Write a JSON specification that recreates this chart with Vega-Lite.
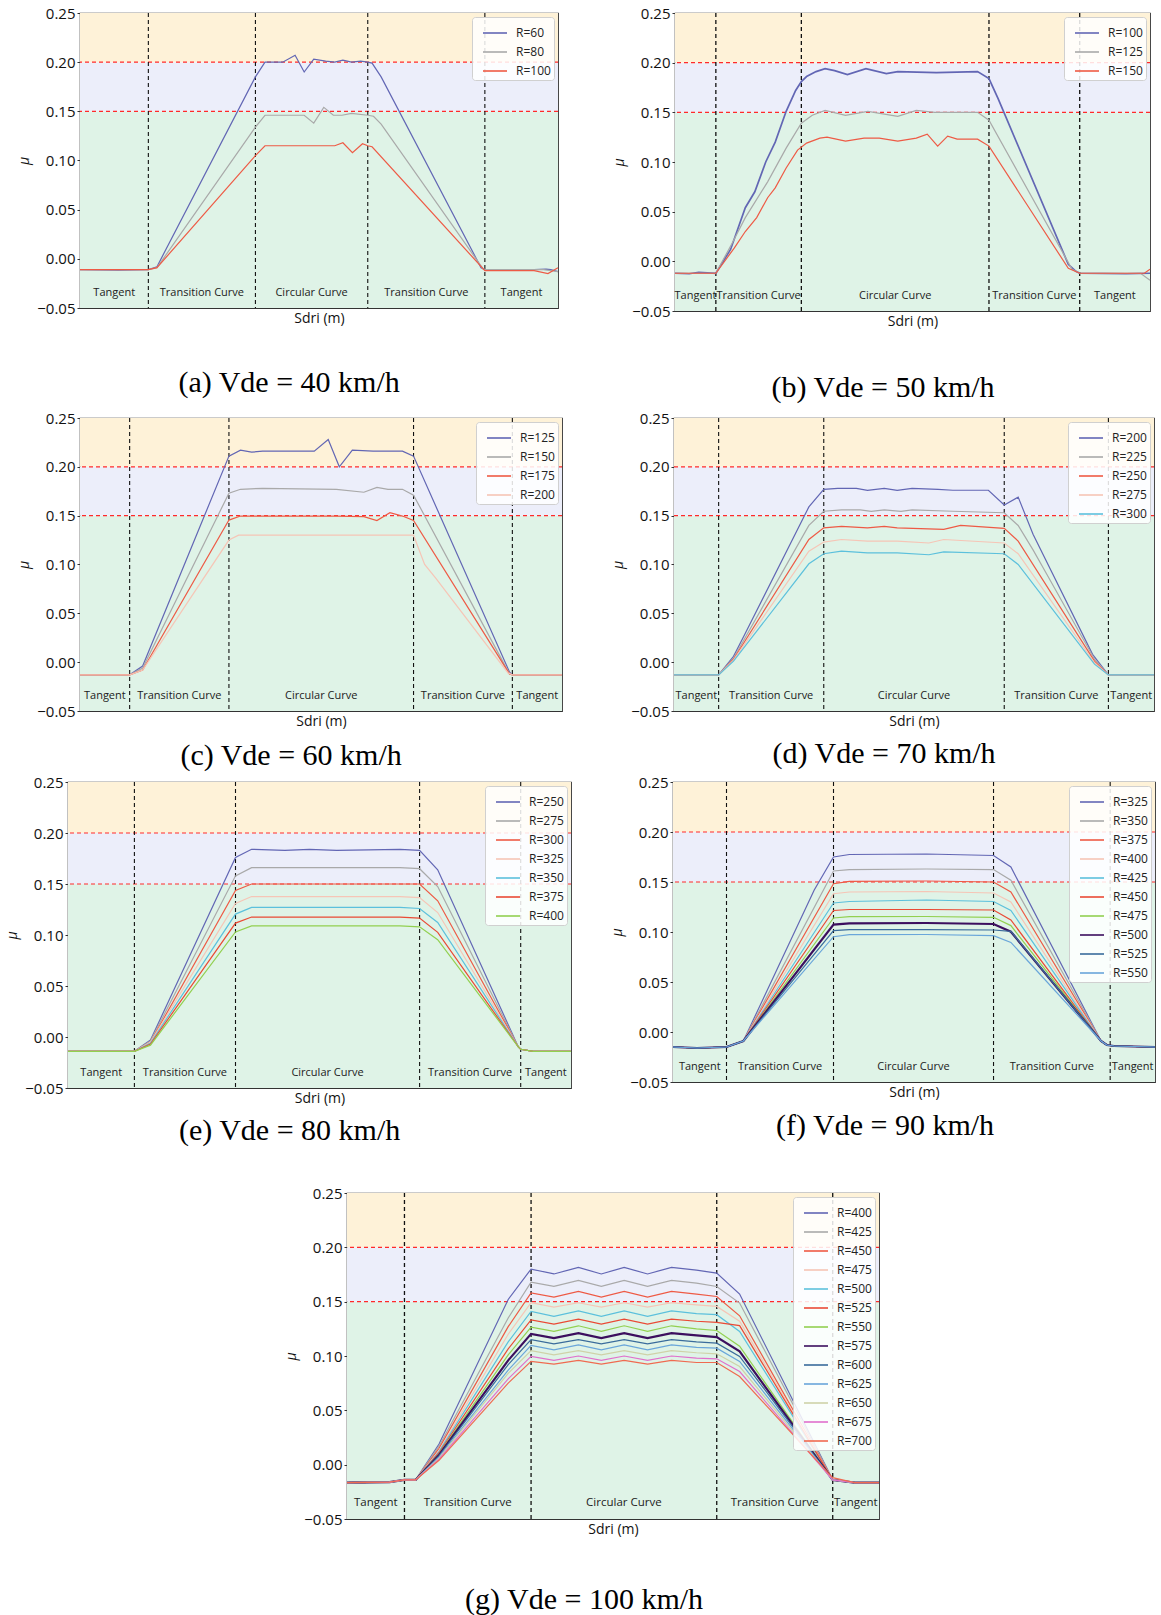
{
"$schema": "https://vega.github.io/schema/vega-lite/v6.json",
"background": "white",
"padding": {"left": 0, "top": 5, "right": 0, "bottom": 0},
"datasets": {
"bands": [{"lo": -0.05, "hi": 0.15, "zone": "g"}, {"lo": 0.15, "hi": 0.2, "zone": "b"}, {"lo": 0.2, "hi": 0.25, "zone": "o"}],
"thr": [{"t": 0.15}, {"t": 0.2}],
"a": [
{"R":"R=60","x":0,"y":-0.011},{"R":"R=60","x":8,"y":-0.0115},{"R":"R=60","x":14.3,"y":-0.011},{"R":"R=60","x":16.1,"y":-0.008},{"R":"R=60","x":36.7,"y":0.185},{"R":"R=60","x":38.7,"y":0.2},{"R":"R=60","x":42.4,"y":0.2},{"R":"R=60","x":45,"y":0.207},{"R":"R=60","x":46.9,"y":0.19},{"R":"R=60","x":48.9,"y":0.203},{"R":"R=60","x":51.4,"y":0.201},{"R":"R=60","x":53.3,"y":0.2},{"R":"R=60","x":55,"y":0.202},{"R":"R=60","x":56.8,"y":0.2},{"R":"R=60","x":58.7,"y":0.201},{"R":"R=60","x":60.2,"y":0.2},{"R":"R=60","x":61.1,"y":0.199},{"R":"R=60","x":63,"y":0.185},{"R":"R=60","x":83.9,"y":-0.009},{"R":"R=60","x":84.7,"y":-0.011},{"R":"R=60","x":95,"y":-0.011},{"R":"R=60","x":97.5,"y":-0.0105},{"R":"R=60","x":98.5,"y":-0.011},{"R":"R=60","x":100,"y":-0.013},
{"R":"R=80","x":0,"y":-0.011},{"R":"R=80","x":14.3,"y":-0.011},{"R":"R=80","x":16.1,"y":-0.009},{"R":"R=80","x":36.7,"y":0.134},{"R":"R=80","x":38.7,"y":0.146},{"R":"R=80","x":46.9,"y":0.146},{"R":"R=80","x":48.9,"y":0.138},{"R":"R=80","x":51,"y":0.154},{"R":"R=80","x":53,"y":0.146},{"R":"R=80","x":54.8,"y":0.146},{"R":"R=80","x":56.8,"y":0.148},{"R":"R=80","x":60.2,"y":0.146},{"R":"R=80","x":61.4,"y":0.145},{"R":"R=80","x":63,"y":0.137},{"R":"R=80","x":84.3,"y":-0.01},{"R":"R=80","x":84.7,"y":-0.011},{"R":"R=80","x":97,"y":-0.011},{"R":"R=80","x":100,"y":-0.013},
{"R":"R=100","x":0,"y":-0.011},{"R":"R=100","x":14.3,"y":-0.011},{"R":"R=100","x":16.1,"y":-0.009},{"R":"R=100","x":36.7,"y":0.105},{"R":"R=100","x":38.7,"y":0.115},{"R":"R=100","x":53.3,"y":0.115},{"R":"R=100","x":55,"y":0.118},{"R":"R=100","x":57,"y":0.108},{"R":"R=100","x":59.1,"y":0.117},{"R":"R=100","x":60.2,"y":0.115},{"R":"R=100","x":61.1,"y":0.114},{"R":"R=100","x":84.7,"y":-0.012},{"R":"R=100","x":95,"y":-0.012},{"R":"R=100","x":97.9,"y":-0.015},{"R":"R=100","x":100,"y":-0.009}
],
"b": [
{"R":"R=100","x":0,"y":-0.012},{"R":"R=100","x":3,"y":-0.0125},{"R":"R=100","x":5,"y":-0.011},{"R":"R=100","x":8.6,"y":-0.012},{"R":"R=100","x":11.7,"y":0.012},{"R":"R=100","x":14.8,"y":0.054},{"R":"R=100","x":16.8,"y":0.07},{"R":"R=100","x":19.1,"y":0.1},{"R":"R=100","x":21.1,"y":0.12},{"R":"R=100","x":23.4,"y":0.151},{"R":"R=100","x":25.4,"y":0.172},{"R":"R=100","x":26.6,"y":0.181},{"R":"R=100","x":27.7,"y":0.186},{"R":"R=100","x":29.7,"y":0.191},{"R":"R=100","x":31.6,"y":0.194},{"R":"R=100","x":33.6,"y":0.192},{"R":"R=100","x":36.3,"y":0.188},{"R":"R=100","x":40.2,"y":0.194},{"R":"R=100","x":44.5,"y":0.189},{"R":"R=100","x":46.9,"y":0.191},{"R":"R=100","x":55,"y":0.19},{"R":"R=100","x":63.7,"y":0.191},{"R":"R=100","x":66.1,"y":0.184},{"R":"R=100","x":68,"y":0.164},{"R":"R=100","x":82.8,"y":-0.003},{"R":"R=100","x":84.4,"y":-0.01},{"R":"R=100","x":85.2,"y":-0.012},{"R":"R=100","x":95,"y":-0.0125},{"R":"R=100","x":100,"y":-0.012},
{"R":"R=125","x":0,"y":-0.012},{"R":"R=125","x":8.6,"y":-0.012},{"R":"R=125","x":12,"y":0.018},{"R":"R=125","x":14.8,"y":0.044},{"R":"R=125","x":19.5,"y":0.08},{"R":"R=125","x":23.4,"y":0.114},{"R":"R=125","x":26.6,"y":0.139},{"R":"R=125","x":28.9,"y":0.147},{"R":"R=125","x":31.6,"y":0.152},{"R":"R=125","x":35.9,"y":0.147},{"R":"R=125","x":40.6,"y":0.151},{"R":"R=125","x":46.9,"y":0.146},{"R":"R=125","x":50.8,"y":0.152},{"R":"R=125","x":54.7,"y":0.15},{"R":"R=125","x":63.7,"y":0.15},{"R":"R=125","x":66.1,"y":0.142},{"R":"R=125","x":83.6,"y":-0.008},{"R":"R=125","x":85.2,"y":-0.012},{"R":"R=125","x":98,"y":-0.012},{"R":"R=125","x":100,"y":-0.019},
{"R":"R=150","x":0,"y":-0.012},{"R":"R=150","x":8.6,"y":-0.012},{"R":"R=150","x":12.5,"y":0.0135},{"R":"R=150","x":14.8,"y":0.03},{"R":"R=150","x":17.2,"y":0.044},{"R":"R=150","x":19.5,"y":0.064},{"R":"R=150","x":21.1,"y":0.074},{"R":"R=150","x":23.4,"y":0.094},{"R":"R=150","x":25.8,"y":0.112},{"R":"R=150","x":27.7,"y":0.119},{"R":"R=150","x":30.5,"y":0.124},{"R":"R=150","x":32,"y":0.125},{"R":"R=150","x":35.9,"y":0.121},{"R":"R=150","x":39.8,"y":0.124},{"R":"R=150","x":43,"y":0.124},{"R":"R=150","x":46.9,"y":0.121},{"R":"R=150","x":50.8,"y":0.124},{"R":"R=150","x":53.1,"y":0.128},{"R":"R=150","x":55.3,"y":0.116},{"R":"R=150","x":57.4,"y":0.126},{"R":"R=150","x":59.4,"y":0.123},{"R":"R=150","x":63.7,"y":0.123},{"R":"R=150","x":66.1,"y":0.116},{"R":"R=150","x":82.8,"y":-0.007},{"R":"R=150","x":85.2,"y":-0.012},{"R":"R=150","x":98.8,"y":-0.012},{"R":"R=150","x":100,"y":-0.008}
],
"c": [
{"R":"R=125","x":0,"y":-0.013},{"R":"R=125","x":10.3,"y":-0.013},{"R":"R=125","x":13,"y":-0.004},{"R":"R=125","x":30.9,"y":0.211},{"R":"R=125","x":33.3,"y":0.217},{"R":"R=125","x":35.6,"y":0.215},{"R":"R=125","x":37.9,"y":0.216},{"R":"R=125","x":43.2,"y":0.216},{"R":"R=125","x":48.6,"y":0.216},{"R":"R=125","x":51.5,"y":0.228},{"R":"R=125","x":53.8,"y":0.2},{"R":"R=125","x":56.5,"y":0.217},{"R":"R=125","x":60.8,"y":0.216},{"R":"R=125","x":66.9,"y":0.216},{"R":"R=125","x":69.2,"y":0.211},{"R":"R=125","x":89.1,"y":-0.01},{"R":"R=125","x":89.7,"y":-0.013},{"R":"R=125","x":100,"y":-0.013},
{"R":"R=150","x":0,"y":-0.013},{"R":"R=150","x":10.3,"y":-0.013},{"R":"R=150","x":13,"y":-0.006},{"R":"R=150","x":30.9,"y":0.173},{"R":"R=150","x":33.3,"y":0.177},{"R":"R=150","x":37.9,"y":0.178},{"R":"R=150","x":53.2,"y":0.177},{"R":"R=150","x":58.9,"y":0.174},{"R":"R=150","x":61.6,"y":0.179},{"R":"R=150","x":63.9,"y":0.177},{"R":"R=150","x":66.9,"y":0.177},{"R":"R=150","x":69.2,"y":0.171},{"R":"R=150","x":89.1,"y":-0.012},{"R":"R=150","x":89.7,"y":-0.013},{"R":"R=150","x":100,"y":-0.013},
{"R":"R=175","x":0,"y":-0.013},{"R":"R=175","x":10.3,"y":-0.013},{"R":"R=175","x":13,"y":-0.008},{"R":"R=175","x":30.9,"y":0.1455},{"R":"R=175","x":33.3,"y":0.1496},{"R":"R=175","x":53.2,"y":0.1496},{"R":"R=175","x":58.9,"y":0.149},{"R":"R=175","x":61.6,"y":0.145},{"R":"R=175","x":64.3,"y":0.153},{"R":"R=175","x":66.9,"y":0.1496},{"R":"R=175","x":69.2,"y":0.145},{"R":"R=175","x":89.1,"y":-0.012},{"R":"R=175","x":89.7,"y":-0.013},{"R":"R=175","x":100,"y":-0.013},
{"R":"R=200","x":0,"y":-0.013},{"R":"R=200","x":10.3,"y":-0.013},{"R":"R=200","x":13,"y":-0.008},{"R":"R=200","x":30.9,"y":0.125},{"R":"R=200","x":32.9,"y":0.13},{"R":"R=200","x":69.2,"y":0.13},{"R":"R=200","x":71.5,"y":0.1},{"R":"R=200","x":73.8,"y":0.086},{"R":"R=200","x":88.8,"y":-0.011},{"R":"R=200","x":89.7,"y":-0.013},{"R":"R=200","x":100,"y":-0.013}
],
"d": [
{"R":"R=200","x":0,"y":-0.013},{"R":"R=200","x":9.3,"y":-0.013},{"R":"R=200","x":12.4,"y":0.006},{"R":"R=200","x":14.7,"y":0.028},{"R":"R=200","x":28.1,"y":0.159},{"R":"R=200","x":31.2,"y":0.177},{"R":"R=200","x":34.1,"y":0.178},{"R":"R=200","x":38,"y":0.178},{"R":"R=200","x":40.3,"y":0.176},{"R":"R=200","x":43.8,"y":0.178},{"R":"R=200","x":46.5,"y":0.176},{"R":"R=200","x":49.6,"y":0.178},{"R":"R=200","x":55,"y":0.177},{"R":"R=200","x":58.1,"y":0.176},{"R":"R=200","x":65.5,"y":0.176},{"R":"R=200","x":68.8,"y":0.161},{"R":"R=200","x":71.7,"y":0.169},{"R":"R=200","x":74.8,"y":0.131},{"R":"R=200","x":87.2,"y":0.008},{"R":"R=200","x":90.5,"y":-0.013},{"R":"R=200","x":100,"y":-0.013},
{"R":"R=225","x":0,"y":-0.013},{"R":"R=225","x":9.3,"y":-0.013},{"R":"R=225","x":12.4,"y":0.004},{"R":"R=225","x":28.1,"y":0.14},{"R":"R=225","x":31.2,"y":0.1545},{"R":"R=225","x":34.9,"y":0.156},{"R":"R=225","x":38.8,"y":0.156},{"R":"R=225","x":41.1,"y":0.1545},{"R":"R=225","x":43.8,"y":0.156},{"R":"R=225","x":47.3,"y":0.1545},{"R":"R=225","x":49.6,"y":0.156},{"R":"R=225","x":58.1,"y":0.1545},{"R":"R=225","x":68.8,"y":0.153},{"R":"R=225","x":71.7,"y":0.14},{"R":"R=225","x":74.8,"y":0.115},{"R":"R=225","x":77.9,"y":0.088},{"R":"R=225","x":87.6,"y":0.003},{"R":"R=225","x":90.5,"y":-0.013},{"R":"R=225","x":100,"y":-0.013},
{"R":"R=250","x":0,"y":-0.013},{"R":"R=250","x":9.3,"y":-0.013},{"R":"R=250","x":12.4,"y":0.003},{"R":"R=250","x":28.1,"y":0.1256},{"R":"R=250","x":31.2,"y":0.1375},{"R":"R=250","x":34.9,"y":0.139},{"R":"R=250","x":40.3,"y":0.1375},{"R":"R=250","x":43.8,"y":0.139},{"R":"R=250","x":46.5,"y":0.1375},{"R":"R=250","x":56.2,"y":0.136},{"R":"R=250","x":59.7,"y":0.14},{"R":"R=250","x":68.8,"y":0.137},{"R":"R=250","x":71.7,"y":0.124},{"R":"R=250","x":87.6,"y":0.001},{"R":"R=250","x":90.5,"y":-0.013},{"R":"R=250","x":100,"y":-0.013},
{"R":"R=275","x":0,"y":-0.013},{"R":"R=275","x":9.3,"y":-0.013},{"R":"R=275","x":12.4,"y":0.002},{"R":"R=275","x":28.1,"y":0.1136},{"R":"R=275","x":31.2,"y":0.123},{"R":"R=275","x":34.9,"y":0.1256},{"R":"R=275","x":40.3,"y":0.124},{"R":"R=275","x":46.5,"y":0.124},{"R":"R=275","x":53.1,"y":0.122},{"R":"R=275","x":56.2,"y":0.1256},{"R":"R=275","x":68.8,"y":0.122},{"R":"R=275","x":71.7,"y":0.111},{"R":"R=275","x":87.6,"y":-0.0006},{"R":"R=275","x":90.5,"y":-0.013},{"R":"R=275","x":100,"y":-0.013},
{"R":"R=300","x":0,"y":-0.013},{"R":"R=300","x":9.3,"y":-0.013},{"R":"R=300","x":12.4,"y":0.001},{"R":"R=300","x":28.1,"y":0.1007},{"R":"R=300","x":31.2,"y":0.111},{"R":"R=300","x":34.9,"y":0.1136},{"R":"R=300","x":40.3,"y":0.112},{"R":"R=300","x":46.5,"y":0.112},{"R":"R=300","x":53.1,"y":0.11},{"R":"R=300","x":56.2,"y":0.113},{"R":"R=300","x":68.8,"y":0.111},{"R":"R=300","x":71.7,"y":0.1},{"R":"R=300","x":87.6,"y":-0.002},{"R":"R=300","x":90.5,"y":-0.013},{"R":"R=300","x":100,"y":-0.013}
],
"e": [
{"R":"R=250","x":0,"y":-0.014},{"R":"R=250","x":13.2,"y":-0.014},{"R":"R=250","x":16.4,"y":-0.003},{"R":"R=250","x":33.3,"y":0.176},{"R":"R=250","x":36.5,"y":0.184},{"R":"R=250","x":43.1,"y":0.183},{"R":"R=250","x":48,"y":0.184},{"R":"R=250","x":53.4,"y":0.183},{"R":"R=250","x":66,"y":0.184},{"R":"R=250","x":69.9,"y":0.183},{"R":"R=250","x":73.5,"y":0.164},{"R":"R=250","x":89.5,"y":-0.0095},{"R":"R=250","x":90,"y":-0.012},{"R":"R=250","x":92.5,"y":-0.014},{"R":"R=250","x":100,"y":-0.014},
{"R":"R=275","x":0,"y":-0.014},{"R":"R=275","x":13.2,"y":-0.014},{"R":"R=275","x":16.4,"y":-0.004},{"R":"R=275","x":33.3,"y":0.158},{"R":"R=275","x":36.5,"y":0.166},{"R":"R=275","x":66,"y":0.166},{"R":"R=275","x":69.9,"y":0.165},{"R":"R=275","x":73.5,"y":0.1475},{"R":"R=275","x":89.5,"y":-0.0095},{"R":"R=275","x":90,"y":-0.012},{"R":"R=275","x":92.5,"y":-0.014},{"R":"R=275","x":100,"y":-0.014},
{"R":"R=300","x":0,"y":-0.014},{"R":"R=300","x":13.2,"y":-0.014},{"R":"R=300","x":16.4,"y":-0.005},{"R":"R=300","x":33.3,"y":0.1436},{"R":"R=300","x":36.5,"y":0.15},{"R":"R=300","x":66,"y":0.15},{"R":"R=300","x":69.9,"y":0.15},{"R":"R=300","x":73.5,"y":0.1335},{"R":"R=300","x":89.5,"y":-0.0095},{"R":"R=300","x":90,"y":-0.012},{"R":"R=300","x":92.5,"y":-0.014},{"R":"R=300","x":100,"y":-0.014},
{"R":"R=325","x":0,"y":-0.014},{"R":"R=325","x":13.2,"y":-0.014},{"R":"R=325","x":16.4,"y":-0.005},{"R":"R=325","x":33.3,"y":0.131},{"R":"R=325","x":36.5,"y":0.1377},{"R":"R=325","x":66,"y":0.1377},{"R":"R=325","x":69.9,"y":0.1367},{"R":"R=325","x":73.5,"y":0.122},{"R":"R=325","x":89.5,"y":-0.0095},{"R":"R=325","x":90,"y":-0.012},{"R":"R=325","x":92.5,"y":-0.014},{"R":"R=325","x":100,"y":-0.014},
{"R":"R=350","x":0,"y":-0.014},{"R":"R=350","x":13.2,"y":-0.014},{"R":"R=350","x":16.4,"y":-0.006},{"R":"R=350","x":33.3,"y":0.1205},{"R":"R=350","x":36.5,"y":0.127},{"R":"R=350","x":66,"y":0.127},{"R":"R=350","x":69.9,"y":0.126},{"R":"R=350","x":73.5,"y":0.1123},{"R":"R=350","x":89.5,"y":-0.0095},{"R":"R=350","x":90,"y":-0.012},{"R":"R=350","x":92.5,"y":-0.014},{"R":"R=350","x":100,"y":-0.014},
{"R":"R=375","x":0,"y":-0.014},{"R":"R=375","x":13.2,"y":-0.014},{"R":"R=375","x":16.4,"y":-0.007},{"R":"R=375","x":33.3,"y":0.1117},{"R":"R=375","x":36.5,"y":0.1176},{"R":"R=375","x":66,"y":0.1176},{"R":"R=375","x":69.9,"y":0.1166},{"R":"R=375","x":73.5,"y":0.1026},{"R":"R=375","x":89.5,"y":-0.0095},{"R":"R=375","x":90,"y":-0.012},{"R":"R=375","x":92.5,"y":-0.014},{"R":"R=375","x":100,"y":-0.014},
{"R":"R=400","x":0,"y":-0.014},{"R":"R=400","x":13.2,"y":-0.014},{"R":"R=400","x":16.4,"y":-0.008},{"R":"R=400","x":33.3,"y":0.103},{"R":"R=400","x":36.5,"y":0.109},{"R":"R=400","x":66,"y":0.109},{"R":"R=400","x":69.9,"y":0.108},{"R":"R=400","x":73.5,"y":0.0954},{"R":"R=400","x":89.5,"y":-0.0095},{"R":"R=400","x":90,"y":-0.012},{"R":"R=400","x":92.5,"y":-0.014},{"R":"R=400","x":100,"y":-0.014}
],
"f": [
{"R":"R=325","x":0,"y":-0.015},{"R":"R=325","x":5,"y":-0.016},{"R":"R=325","x":11.1,"y":-0.015},{"R":"R=325","x":14.6,"y":-0.009},{"R":"R=325","x":29.3,"y":0.142},{"R":"R=325","x":33.3,"y":0.175},{"R":"R=325","x":36.6,"y":0.1775},{"R":"R=325","x":52.6,"y":0.178},{"R":"R=325","x":66.5,"y":0.1765},{"R":"R=325","x":70.1,"y":0.165},{"R":"R=325","x":88.8,"y":-0.009},{"R":"R=325","x":90,"y":-0.013},{"R":"R=325","x":91.5,"y":-0.014},{"R":"R=325","x":100,"y":-0.015},
{"R":"R=350","x":0,"y":-0.015},{"R":"R=350","x":5,"y":-0.016},{"R":"R=350","x":11.1,"y":-0.015},{"R":"R=350","x":14.6,"y":-0.009},{"R":"R=350","x":33.3,"y":0.161},{"R":"R=350","x":36.6,"y":0.1624},{"R":"R=350","x":52.6,"y":0.163},{"R":"R=350","x":66.5,"y":0.1624},{"R":"R=350","x":70.1,"y":0.1517},{"R":"R=350","x":88.8,"y":-0.009},{"R":"R=350","x":90,"y":-0.013},{"R":"R=350","x":91.5,"y":-0.014},{"R":"R=350","x":100,"y":-0.015},
{"R":"R=375","x":0,"y":-0.015},{"R":"R=375","x":5,"y":-0.016},{"R":"R=375","x":11.1,"y":-0.015},{"R":"R=375","x":14.6,"y":-0.009},{"R":"R=375","x":33.3,"y":0.1483},{"R":"R=375","x":36.6,"y":0.1507},{"R":"R=375","x":52.6,"y":0.151},{"R":"R=375","x":66.5,"y":0.15},{"R":"R=375","x":70.1,"y":0.14},{"R":"R=375","x":88.8,"y":-0.009},{"R":"R=375","x":90,"y":-0.013},{"R":"R=375","x":91.5,"y":-0.014},{"R":"R=375","x":100,"y":-0.015},
{"R":"R=400","x":0,"y":-0.015},{"R":"R=400","x":5,"y":-0.016},{"R":"R=400","x":11.1,"y":-0.015},{"R":"R=400","x":14.6,"y":-0.009},{"R":"R=400","x":33.3,"y":0.1383},{"R":"R=400","x":36.6,"y":0.14},{"R":"R=400","x":52.6,"y":0.1405},{"R":"R=400","x":66.5,"y":0.139},{"R":"R=400","x":70.1,"y":0.13},{"R":"R=400","x":88.8,"y":-0.009},{"R":"R=400","x":90,"y":-0.013},{"R":"R=400","x":91.5,"y":-0.014},{"R":"R=400","x":100,"y":-0.015},
{"R":"R=425","x":0,"y":-0.015},{"R":"R=425","x":5,"y":-0.016},{"R":"R=425","x":11.1,"y":-0.015},{"R":"R=425","x":14.6,"y":-0.009},{"R":"R=425","x":33.3,"y":0.129},{"R":"R=425","x":36.6,"y":0.1305},{"R":"R=425","x":52.6,"y":0.132},{"R":"R=425","x":66.5,"y":0.1305},{"R":"R=425","x":70.1,"y":0.1215},{"R":"R=425","x":88.8,"y":-0.009},{"R":"R=425","x":90,"y":-0.013},{"R":"R=425","x":91.5,"y":-0.014},{"R":"R=425","x":100,"y":-0.015},
{"R":"R=450","x":0,"y":-0.015},{"R":"R=450","x":5,"y":-0.016},{"R":"R=450","x":11.1,"y":-0.015},{"R":"R=450","x":14.6,"y":-0.009},{"R":"R=450","x":33.3,"y":0.1215},{"R":"R=450","x":36.6,"y":0.1225},{"R":"R=450","x":52.6,"y":0.1225},{"R":"R=450","x":66.5,"y":0.122},{"R":"R=450","x":70.1,"y":0.112},{"R":"R=450","x":88.8,"y":-0.009},{"R":"R=450","x":90,"y":-0.013},{"R":"R=450","x":91.5,"y":-0.014},{"R":"R=450","x":100,"y":-0.015},
{"R":"R=475","x":0,"y":-0.015},{"R":"R=475","x":5,"y":-0.016},{"R":"R=475","x":11.1,"y":-0.015},{"R":"R=475","x":14.6,"y":-0.009},{"R":"R=475","x":33.3,"y":0.114},{"R":"R=475","x":36.6,"y":0.1154},{"R":"R=475","x":52.6,"y":0.1155},{"R":"R=475","x":66.5,"y":0.1147},{"R":"R=475","x":70.1,"y":0.1064},{"R":"R=475","x":88.8,"y":-0.009},{"R":"R=475","x":90,"y":-0.013},{"R":"R=475","x":91.5,"y":-0.014},{"R":"R=475","x":100,"y":-0.015},
{"R":"R=500","x":0,"y":-0.015},{"R":"R=500","x":5,"y":-0.016},{"R":"R=500","x":11.1,"y":-0.015},{"R":"R=500","x":14.6,"y":-0.009},{"R":"R=500","x":33.3,"y":0.1074},{"R":"R=500","x":36.6,"y":0.1087},{"R":"R=500","x":52.6,"y":0.109},{"R":"R=500","x":66.5,"y":0.108},{"R":"R=500","x":70.1,"y":0.1003},{"R":"R=500","x":88.8,"y":-0.009},{"R":"R=500","x":90,"y":-0.013},{"R":"R=500","x":91.5,"y":-0.014},{"R":"R=500","x":100,"y":-0.015},
{"R":"R=525","x":0,"y":-0.015},{"R":"R=525","x":5,"y":-0.016},{"R":"R=525","x":11.1,"y":-0.015},{"R":"R=525","x":14.6,"y":-0.009},{"R":"R=525","x":33.3,"y":0.1013},{"R":"R=525","x":36.6,"y":0.1023},{"R":"R=525","x":52.6,"y":0.1023},{"R":"R=525","x":66.5,"y":0.102},{"R":"R=525","x":70.1,"y":0.1007},{"R":"R=525","x":88.8,"y":-0.009},{"R":"R=525","x":90,"y":-0.013},{"R":"R=525","x":91.5,"y":-0.014},{"R":"R=525","x":100,"y":-0.015},
{"R":"R=550","x":0,"y":-0.015},{"R":"R=550","x":5,"y":-0.016},{"R":"R=550","x":11.1,"y":-0.015},{"R":"R=550","x":14.6,"y":-0.009},{"R":"R=550","x":33.3,"y":0.0953},{"R":"R=550","x":36.6,"y":0.0973},{"R":"R=550","x":52.6,"y":0.0975},{"R":"R=550","x":66.5,"y":0.0963},{"R":"R=550","x":70.1,"y":0.0896},{"R":"R=550","x":88.8,"y":-0.009},{"R":"R=550","x":90,"y":-0.013},{"R":"R=550","x":91.5,"y":-0.014},{"R":"R=550","x":100,"y":-0.015}
],
"g": [
{"R":"R=400","x":0,"y":-0.0165},{"R":"R=400","x":8,"y":-0.016},{"R":"R=400","x":10.8,"y":-0.014},{"R":"R=400","x":12.9,"y":-0.014},{"R":"R=400","x":17.3,"y":0.019},{"R":"R=400","x":30.3,"y":0.152},{"R":"R=400","x":34.6,"y":0.18},{"R":"R=400","x":38.9,"y":0.1755},{"R":"R=400","x":43.5,"y":0.1815},{"R":"R=400","x":47.8,"y":0.1755},{"R":"R=400","x":52.1,"y":0.1815},{"R":"R=400","x":56.5,"y":0.1755},{"R":"R=400","x":61,"y":0.1815},{"R":"R=400","x":65.7,"y":0.179},{"R":"R=400","x":69.5,"y":0.1763},{"R":"R=400","x":73.8,"y":0.157},{"R":"R=400","x":91.3,"y":-0.014},{"R":"R=400","x":95.4,"y":-0.0165},{"R":"R=400","x":100,"y":-0.0165},
{"R":"R=425","x":0,"y":-0.0165},{"R":"R=425","x":8,"y":-0.016},{"R":"R=425","x":10.8,"y":-0.014},{"R":"R=425","x":12.9,"y":-0.014},{"R":"R=425","x":17.3,"y":0.017},{"R":"R=425","x":30.3,"y":0.135},{"R":"R=425","x":34.6,"y":0.168},{"R":"R=425","x":38.9,"y":0.164},{"R":"R=425","x":43.5,"y":0.1696},{"R":"R=425","x":47.8,"y":0.164},{"R":"R=425","x":52.1,"y":0.1696},{"R":"R=425","x":56.5,"y":0.164},{"R":"R=425","x":61,"y":0.1696},{"R":"R=425","x":65.7,"y":0.167},{"R":"R=425","x":69.5,"y":0.164},{"R":"R=425","x":73.8,"y":0.1487},{"R":"R=425","x":91.3,"y":-0.014},{"R":"R=425","x":95.4,"y":-0.0165},{"R":"R=425","x":100,"y":-0.0165},
{"R":"R=450","x":0,"y":-0.0165},{"R":"R=450","x":8,"y":-0.016},{"R":"R=450","x":10.8,"y":-0.014},{"R":"R=450","x":12.9,"y":-0.014},{"R":"R=450","x":17.3,"y":0.015},{"R":"R=450","x":30.3,"y":0.127},{"R":"R=450","x":34.6,"y":0.158},{"R":"R=450","x":38.9,"y":0.1542},{"R":"R=450","x":43.5,"y":0.1594},{"R":"R=450","x":47.8,"y":0.1542},{"R":"R=450","x":52.1,"y":0.1594},{"R":"R=450","x":56.5,"y":0.1542},{"R":"R=450","x":61,"y":0.1594},{"R":"R=450","x":65.7,"y":0.157},{"R":"R=450","x":69.5,"y":0.1548},{"R":"R=450","x":73.8,"y":0.137},{"R":"R=450","x":91.3,"y":-0.014},{"R":"R=450","x":95.4,"y":-0.0165},{"R":"R=450","x":100,"y":-0.0165},
{"R":"R=475","x":0,"y":-0.0165},{"R":"R=475","x":8,"y":-0.016},{"R":"R=475","x":10.8,"y":-0.014},{"R":"R=475","x":12.9,"y":-0.014},{"R":"R=475","x":17.3,"y":0.013},{"R":"R=475","x":30.3,"y":0.12},{"R":"R=475","x":34.6,"y":0.149},{"R":"R=475","x":38.9,"y":0.145},{"R":"R=475","x":43.5,"y":0.149},{"R":"R=475","x":47.8,"y":0.145},{"R":"R=475","x":52.1,"y":0.149},{"R":"R=475","x":56.5,"y":0.145},{"R":"R=475","x":61,"y":0.149},{"R":"R=475","x":65.7,"y":0.147},{"R":"R=475","x":69.5,"y":0.1456},{"R":"R=475","x":73.8,"y":0.132},{"R":"R=475","x":91.3,"y":-0.014},{"R":"R=475","x":95.4,"y":-0.0165},{"R":"R=475","x":100,"y":-0.0165},
{"R":"R=500","x":0,"y":-0.0165},{"R":"R=500","x":8,"y":-0.016},{"R":"R=500","x":10.8,"y":-0.014},{"R":"R=500","x":12.9,"y":-0.014},{"R":"R=500","x":17.3,"y":0.012},{"R":"R=500","x":30.3,"y":0.113},{"R":"R=500","x":34.6,"y":0.141},{"R":"R=500","x":38.9,"y":0.1364},{"R":"R=500","x":43.5,"y":0.1416},{"R":"R=500","x":47.8,"y":0.1364},{"R":"R=500","x":52.1,"y":0.1416},{"R":"R=500","x":56.5,"y":0.1364},{"R":"R=500","x":61,"y":0.1416},{"R":"R=500","x":65.7,"y":0.139},{"R":"R=500","x":69.5,"y":0.138},{"R":"R=500","x":73.8,"y":0.1226},{"R":"R=500","x":91.3,"y":-0.014},{"R":"R=500","x":95.4,"y":-0.0165},{"R":"R=500","x":100,"y":-0.0165},
{"R":"R=525","x":0,"y":-0.0165},{"R":"R=525","x":8,"y":-0.016},{"R":"R=525","x":10.8,"y":-0.014},{"R":"R=525","x":12.9,"y":-0.014},{"R":"R=525","x":17.3,"y":0.011},{"R":"R=525","x":30.3,"y":0.1065},{"R":"R=525","x":34.6,"y":0.1333},{"R":"R=525","x":38.9,"y":0.1293},{"R":"R=525","x":43.5,"y":0.134},{"R":"R=525","x":47.8,"y":0.1293},{"R":"R=525","x":52.1,"y":0.134},{"R":"R=525","x":56.5,"y":0.1293},{"R":"R=525","x":61,"y":0.134},{"R":"R=525","x":65.7,"y":0.132},{"R":"R=525","x":69.5,"y":0.131},{"R":"R=525","x":73.8,"y":0.128},{"R":"R=525","x":91.3,"y":-0.014},{"R":"R=525","x":95.4,"y":-0.0165},{"R":"R=525","x":100,"y":-0.0165},
{"R":"R=550","x":0,"y":-0.0165},{"R":"R=550","x":8,"y":-0.016},{"R":"R=550","x":10.8,"y":-0.014},{"R":"R=550","x":12.9,"y":-0.014},{"R":"R=550","x":17.3,"y":0.01},{"R":"R=550","x":30.3,"y":0.101},{"R":"R=550","x":34.6,"y":0.1266},{"R":"R=550","x":38.9,"y":0.1226},{"R":"R=550","x":43.5,"y":0.1278},{"R":"R=550","x":47.8,"y":0.1226},{"R":"R=550","x":52.1,"y":0.1278},{"R":"R=550","x":56.5,"y":0.1226},{"R":"R=550","x":61,"y":0.1278},{"R":"R=550","x":65.7,"y":0.125},{"R":"R=550","x":69.5,"y":0.1235},{"R":"R=550","x":73.8,"y":0.109},{"R":"R=550","x":91.3,"y":-0.014},{"R":"R=550","x":95.4,"y":-0.0165},{"R":"R=550","x":100,"y":-0.0165},
{"R":"R=575","x":0,"y":-0.0165},{"R":"R=575","x":8,"y":-0.016},{"R":"R=575","x":10.8,"y":-0.014},{"R":"R=575","x":12.9,"y":-0.014},{"R":"R=575","x":17.3,"y":0.009},{"R":"R=575","x":30.3,"y":0.096},{"R":"R=575","x":34.6,"y":0.1204},{"R":"R=575","x":38.9,"y":0.1164},{"R":"R=575","x":43.5,"y":0.121},{"R":"R=575","x":47.8,"y":0.1164},{"R":"R=575","x":52.1,"y":0.121},{"R":"R=575","x":56.5,"y":0.1164},{"R":"R=575","x":61,"y":0.121},{"R":"R=575","x":65.7,"y":0.119},{"R":"R=575","x":69.5,"y":0.1174},{"R":"R=575","x":73.8,"y":0.1042},{"R":"R=575","x":91.3,"y":-0.014},{"R":"R=575","x":95.4,"y":-0.0165},{"R":"R=575","x":100,"y":-0.0165},
{"R":"R=600","x":0,"y":-0.0165},{"R":"R=600","x":8,"y":-0.016},{"R":"R=600","x":10.8,"y":-0.014},{"R":"R=600","x":12.9,"y":-0.014},{"R":"R=600","x":17.3,"y":0.008},{"R":"R=600","x":30.3,"y":0.092},{"R":"R=600","x":34.6,"y":0.115},{"R":"R=600","x":38.9,"y":0.1112},{"R":"R=600","x":43.5,"y":0.115},{"R":"R=600","x":47.8,"y":0.1112},{"R":"R=600","x":52.1,"y":0.115},{"R":"R=600","x":56.5,"y":0.1112},{"R":"R=600","x":61,"y":0.115},{"R":"R=600","x":65.7,"y":0.113},{"R":"R=600","x":69.5,"y":0.1118},{"R":"R=600","x":73.8,"y":0.0996},{"R":"R=600","x":91.3,"y":-0.014},{"R":"R=600","x":95.4,"y":-0.0165},{"R":"R=600","x":100,"y":-0.0165},
{"R":"R=625","x":0,"y":-0.0165},{"R":"R=625","x":8,"y":-0.016},{"R":"R=625","x":10.8,"y":-0.014},{"R":"R=625","x":12.9,"y":-0.014},{"R":"R=625","x":17.3,"y":0.007},{"R":"R=625","x":30.3,"y":0.087},{"R":"R=625","x":34.6,"y":0.1097},{"R":"R=625","x":38.9,"y":0.1057},{"R":"R=625","x":43.5,"y":0.1103},{"R":"R=625","x":47.8,"y":0.1057},{"R":"R=625","x":52.1,"y":0.1103},{"R":"R=625","x":56.5,"y":0.1057},{"R":"R=625","x":61,"y":0.1103},{"R":"R=625","x":65.7,"y":0.108},{"R":"R=625","x":69.5,"y":0.1072},{"R":"R=625","x":73.8,"y":0.095},{"R":"R=625","x":91.3,"y":-0.014},{"R":"R=625","x":95.4,"y":-0.0165},{"R":"R=625","x":100,"y":-0.0165},
{"R":"R=650","x":0,"y":-0.0165},{"R":"R=650","x":8,"y":-0.016},{"R":"R=650","x":10.8,"y":-0.014},{"R":"R=650","x":12.9,"y":-0.014},{"R":"R=650","x":17.3,"y":0.006},{"R":"R=650","x":30.3,"y":0.084},{"R":"R=650","x":34.6,"y":0.105},{"R":"R=650","x":38.9,"y":0.1011},{"R":"R=650","x":43.5,"y":0.105},{"R":"R=650","x":47.8,"y":0.1011},{"R":"R=650","x":52.1,"y":0.105},{"R":"R=650","x":56.5,"y":0.1011},{"R":"R=650","x":61,"y":0.105},{"R":"R=650","x":65.7,"y":0.103},{"R":"R=650","x":69.5,"y":0.102},{"R":"R=650","x":73.8,"y":0.0903},{"R":"R=650","x":91.3,"y":-0.014},{"R":"R=650","x":95.4,"y":-0.0165},{"R":"R=650","x":100,"y":-0.0165},
{"R":"R=675","x":0,"y":-0.0165},{"R":"R=675","x":8,"y":-0.016},{"R":"R=675","x":10.8,"y":-0.014},{"R":"R=675","x":12.9,"y":-0.014},{"R":"R=675","x":17.3,"y":0.005},{"R":"R=675","x":30.3,"y":0.079},{"R":"R=675","x":34.6,"y":0.0996},{"R":"R=675","x":38.9,"y":0.0959},{"R":"R=675","x":43.5,"y":0.1},{"R":"R=675","x":47.8,"y":0.0959},{"R":"R=675","x":52.1,"y":0.1},{"R":"R=675","x":56.5,"y":0.0959},{"R":"R=675","x":61,"y":0.1},{"R":"R=675","x":65.7,"y":0.098},{"R":"R=675","x":69.5,"y":0.0974},{"R":"R=675","x":73.8,"y":0.0857},{"R":"R=675","x":91.3,"y":-0.014},{"R":"R=675","x":95.4,"y":-0.0165},{"R":"R=675","x":100,"y":-0.0165},
{"R":"R=700","x":0,"y":-0.0165},{"R":"R=700","x":8,"y":-0.016},{"R":"R=700","x":10.8,"y":-0.014},{"R":"R=700","x":12.9,"y":-0.014},{"R":"R=700","x":17.3,"y":0.004},{"R":"R=700","x":30.3,"y":0.075},{"R":"R=700","x":34.6,"y":0.095},{"R":"R=700","x":38.9,"y":0.0925},{"R":"R=700","x":43.5,"y":0.0959},{"R":"R=700","x":47.8,"y":0.0925},{"R":"R=700","x":52.1,"y":0.0959},{"R":"R=700","x":56.5,"y":0.0925},{"R":"R=700","x":61,"y":0.0959},{"R":"R=700","x":65.7,"y":0.094},{"R":"R=700","x":69.5,"y":0.094},{"R":"R=700","x":73.8,"y":0.0811},{"R":"R=700","x":90.5,"y":-0.008},{"R":"R=700","x":91.3,"y":-0.012},{"R":"R=700","x":95.4,"y":-0.0165},{"R":"R=700","x":100,"y":-0.0165}
]
},
"spacing": -3,
"resolve": {"scale": {"color": "independent", "fill": "independent"}, "legend": {"color": "independent"}},
"vconcat": [
{"spacing": 0, "resolve": {"scale": {"color": "independent", "fill": "independent"}, "legend": {"color": "independent"}},
 "hconcat": [
  {"width": 17, "height": 1, "view": {"stroke": null}, "data": {"values": [{}]}, "mark": {"type": "text", "fontSize": 0}, "encoding": {"text": {"value": ""}}},
  {"spacing": 51, "resolve": {"scale": {"color": "independent", "fill": "independent"}, "legend": {"color": "independent"}},
   "hconcat": [
   {"width": 478, "height": 295, "title": {"text": "(a) Vde = 40 km/h", "offset": 43},
    "layer": [
     {"data": {"name": "bands"}, "mark": {"type": "rect"}, "encoding": {"x": {"datum": 0, "type": "quantitative", "title": "Sdri (m)"}, "x2": {"datum": 100}, "y": {"field": "lo", "type": "quantitative", "title": "μ"}, "y2": {"field": "hi"}, "fill": {"field": "zone", "type": "nominal", "scale": {"domain": ["g", "b", "o"], "range": ["#dff3e7", "#eceefa", "#fef2d8"]}, "legend": null}}},
     {"data": {"name": "thr"}, "mark": {"type": "rule", "color": "#ff2a2a", "strokeDash": [4, 3], "strokeWidth": 1.2}, "encoding": {"y": {"field": "t", "type": "quantitative", "title": "μ"}}},
     {"data": {"values": [{"s": 14.3}, {"s": 36.7}, {"s": 60.2}, {"s": 84.7}]}, "mark": {"type": "rule", "color": "#111", "strokeDash": [4, 3], "strokeWidth": 1.1}, "encoding": {"x": {"field": "s", "type": "quantitative", "title": "Sdri (m)"}}},
     {"data": {"values": [{"x": 7.15, "label": "Tangent"}, {"x": 25.5, "label": "Transition Curve"}, {"x": 48.45, "label": "Circular Curve"}, {"x": 72.45, "label": "Transition Curve"}, {"x": 92.35, "label": "Tangent"}]}, "mark": {"type": "text", "font": "Open Sans", "fontSize": 11, "color": "#222"}, "encoding": {"x": {"field": "x", "type": "quantitative", "title": "Sdri (m)"}, "y": {"datum": -0.035, "type": "quantitative", "title": "μ"}, "text": {"field": "label"}}},
     {"data": {"name": "a"}, "mark": {"type": "line", "strokeWidth": 1.2}, "encoding": {
       "x": {"field": "x", "type": "quantitative", "title": "Sdri (m)", "scale": {"domain": [0, 100], "nice": false, "zero": false}},
       "y": {"field": "y", "type": "quantitative", "title": "μ", "scale": {"domain": [-0.05, 0.25], "nice": false, "zero": false}, "axis": {"values": [-0.05, 0, 0.05, 0.1, 0.15, 0.2, 0.25], "format": ".2f"}},
       "color": {"field": "R", "type": "nominal", "scale": {"domain": ["R=60", "R=80", "R=100"], "range": ["#6266b4", "#a9a9a9", "#ee5a45"]}, "legend": {"title": null}}}}
    ]},
   {"width": 475, "height": 298, "title": {"text": "(b) Vde = 50 km/h", "offset": 45},
    "layer": [
     {"data": {"name": "bands"}, "mark": {"type": "rect"}, "encoding": {"x": {"datum": 0, "type": "quantitative", "title": "Sdri (m)"}, "x2": {"datum": 100}, "y": {"field": "lo", "type": "quantitative", "title": "μ"}, "y2": {"field": "hi"}, "fill": {"field": "zone", "type": "nominal", "scale": {"domain": ["g", "b", "o"], "range": ["#dff3e7", "#eceefa", "#fef2d8"]}, "legend": null}}},
     {"data": {"name": "thr"}, "mark": {"type": "rule", "color": "#ff2a2a", "strokeDash": [4, 3], "strokeWidth": 1.2}, "encoding": {"y": {"field": "t", "type": "quantitative", "title": "μ"}}},
     {"data": {"values": [{"s": 8.6}, {"s": 26.6}, {"s": 66.1}, {"s": 85.2}]}, "mark": {"type": "rule", "color": "#111", "strokeDash": [4, 3], "strokeWidth": 1.3}, "encoding": {"x": {"field": "s", "type": "quantitative", "title": "Sdri (m)"}}},
     {"data": {"values": [{"x": 4.3, "label": "Tangent"}, {"x": 17.6, "label": "Transition Curve"}, {"x": 46.35, "label": "Circular Curve"}, {"x": 75.65, "label": "Transition Curve"}, {"x": 92.6, "label": "Tangent"}]}, "mark": {"type": "text", "font": "Open Sans", "fontSize": 11, "color": "#222"}, "encoding": {"x": {"field": "x", "type": "quantitative", "title": "Sdri (m)"}, "y": {"datum": -0.035, "type": "quantitative", "title": "μ"}, "text": {"field": "label"}}},
     {"data": {"name": "b"}, "mark": {"type": "line"}, "encoding": {
       "x": {"field": "x", "type": "quantitative", "title": "Sdri (m)", "scale": {"domain": [0, 100], "nice": false, "zero": false}},
       "y": {"field": "y", "type": "quantitative", "title": "μ", "scale": {"domain": [-0.05, 0.25], "nice": false, "zero": false}, "axis": {"values": [-0.05, 0, 0.05, 0.1, 0.15, 0.2, 0.25], "format": ".2f"}},
       "strokeWidth": {"condition": {"test": "datum.R === 'R=100'", "value": 1.7}, "value": 1.2},
       "color": {"field": "R", "type": "nominal", "scale": {"domain": ["R=100", "R=125", "R=150"], "range": ["#6266b4", "#a9a9a9", "#ee5a45"]}, "legend": {"title": null}}}}
    ]}
   ]}
 ]},
{"width": 1, "height": 9, "view": {"stroke": null}, "data": {"values": [{}]}, "mark": {"type": "text", "fontSize": 0}, "encoding": {"text": {"value": ""}}},
{"spacing": 0, "resolve": {"scale": {"color": "independent", "fill": "independent"}, "legend": {"color": "independent"}},
  "hconcat": [
  {"width": 17, "height": 1, "view": {"stroke": null}, "data": {"values": [{}]}, "mark": {"type": "text", "fontSize": 0}, "encoding": {"text": {"value": ""}}},
  {"spacing": 46, "resolve": {"scale": {"color": "independent", "fill": "independent"}, "legend": {"color": "independent"}},
   "hconcat": [
   {"width": 482, "height": 293, "title": {"text": "(c) Vde = 60 km/h", "offset": 13},
    "layer": [
     {"data": {"name": "bands"}, "mark": {"type": "rect"}, "encoding": {"x": {"datum": 0, "type": "quantitative", "title": "Sdri (m)"}, "x2": {"datum": 100}, "y": {"field": "lo", "type": "quantitative", "title": "μ"}, "y2": {"field": "hi"}, "fill": {"field": "zone", "type": "nominal", "scale": {"domain": ["g", "b", "o"], "range": ["#dff3e7", "#eceefa", "#fef2d8"]}, "legend": null}}},
     {"data": {"name": "thr"}, "mark": {"type": "rule", "color": "#ff2a2a", "strokeDash": [4, 3], "strokeWidth": 1.2}, "encoding": {"y": {"field": "t", "type": "quantitative", "title": "μ"}}},
     {"data": {"values": [{"s": 10.3}, {"s": 30.9}, {"s": 69.2}, {"s": 89.7}]}, "mark": {"type": "rule", "color": "#111", "strokeDash": [4, 3], "strokeWidth": 1.1}, "encoding": {"x": {"field": "s", "type": "quantitative", "title": "Sdri (m)"}}},
     {"data": {"values": [{"x": 5.15, "label": "Tangent"}, {"x": 20.6, "label": "Transition Curve"}, {"x": 50.05, "label": "Circular Curve"}, {"x": 79.45, "label": "Transition Curve"}, {"x": 94.85, "label": "Tangent"}]}, "mark": {"type": "text", "font": "Open Sans", "fontSize": 11, "color": "#222"}, "encoding": {"x": {"field": "x", "type": "quantitative", "title": "Sdri (m)"}, "y": {"datum": -0.035, "type": "quantitative", "title": "μ"}, "text": {"field": "label"}}},
     {"data": {"name": "c"}, "mark": {"type": "line", "strokeWidth": 1.2}, "encoding": {
       "x": {"field": "x", "type": "quantitative", "title": "Sdri (m)", "scale": {"domain": [0, 100], "nice": false, "zero": false}},
       "y": {"field": "y", "type": "quantitative", "title": "μ", "scale": {"domain": [-0.05, 0.25], "nice": false, "zero": false}, "axis": {"values": [-0.05, 0, 0.05, 0.1, 0.15, 0.2, 0.25], "format": ".2f"}},
       "color": {"field": "R", "type": "nominal", "scale": {"domain": ["R=125", "R=150", "R=175", "R=200"], "range": ["#6266b4", "#a9a9a9", "#ee5a45", "#f6c5b6"]}, "legend": {"title": null}}}}
    ]},
   {"width": 480, "height": 293, "title": {"text": "(d) Vde = 70 km/h", "offset": 11},
    "layer": [
     {"data": {"name": "bands"}, "mark": {"type": "rect"}, "encoding": {"x": {"datum": 0, "type": "quantitative", "title": "Sdri (m)"}, "x2": {"datum": 100}, "y": {"field": "lo", "type": "quantitative", "title": "μ"}, "y2": {"field": "hi"}, "fill": {"field": "zone", "type": "nominal", "scale": {"domain": ["g", "b", "o"], "range": ["#dff3e7", "#eceefa", "#fef2d8"]}, "legend": null}}},
     {"data": {"name": "thr"}, "mark": {"type": "rule", "color": "#ff2a2a", "strokeDash": [4, 3], "strokeWidth": 1.2}, "encoding": {"y": {"field": "t", "type": "quantitative", "title": "μ"}}},
     {"data": {"values": [{"s": 9.3}, {"s": 31.2}, {"s": 68.8}, {"s": 90.5}]}, "mark": {"type": "rule", "color": "#111", "strokeDash": [4, 3], "strokeWidth": 1.1}, "encoding": {"x": {"field": "s", "type": "quantitative", "title": "Sdri (m)"}}},
     {"data": {"values": [{"x": 4.65, "label": "Tangent"}, {"x": 20.25, "label": "Transition Curve"}, {"x": 50, "label": "Circular Curve"}, {"x": 79.65, "label": "Transition Curve"}, {"x": 95.25, "label": "Tangent"}]}, "mark": {"type": "text", "font": "Open Sans", "fontSize": 11, "color": "#222"}, "encoding": {"x": {"field": "x", "type": "quantitative", "title": "Sdri (m)"}, "y": {"datum": -0.035, "type": "quantitative", "title": "μ"}, "text": {"field": "label"}}},
     {"data": {"name": "d"}, "mark": {"type": "line", "strokeWidth": 1.2}, "encoding": {
       "x": {"field": "x", "type": "quantitative", "title": "Sdri (m)", "scale": {"domain": [0, 100], "nice": false, "zero": false}},
       "y": {"field": "y", "type": "quantitative", "title": "μ", "scale": {"domain": [-0.05, 0.25], "nice": false, "zero": false}, "axis": {"values": [-0.05, 0, 0.05, 0.1, 0.15, 0.2, 0.25], "format": ".2f"}},
       "color": {"field": "R", "type": "nominal", "scale": {"domain": ["R=200", "R=225", "R=250", "R=275", "R=300"], "range": ["#6266b4", "#a9a9a9", "#ee5a45", "#f6c5b6", "#5cc0dc"]}, "legend": {"title": null}}}}
    ]}
   ]}
  ]},
{"width": 1, "height": 4.4, "view": {"stroke": null}, "data": {"values": [{}]}, "mark": {"type": "text", "fontSize": 0}, "encoding": {"text": {"value": ""}}},
{"spacing": 0, "resolve": {"scale": {"color": "independent", "fill": "independent"}, "legend": {"color": "independent"}},
  "hconcat": [
  {"width": 5, "height": 1, "view": {"stroke": null}, "data": {"values": [{}]}, "mark": {"type": "text", "fontSize": 0}, "encoding": {"text": {"value": ""}}},
  {"spacing": 36, "resolve": {"scale": {"color": "independent", "fill": "independent"}, "legend": {"color": "independent"}},
   "hconcat": [
   {"width": 503, "height": 306, "title": {"text": "(e) Vde = 80 km/h", "offset": 11},
    "layer": [
     {"data": {"name": "bands"}, "mark": {"type": "rect"}, "encoding": {"x": {"datum": 0, "type": "quantitative", "title": "Sdri (m)"}, "x2": {"datum": 100}, "y": {"field": "lo", "type": "quantitative", "title": "μ"}, "y2": {"field": "hi"}, "fill": {"field": "zone", "type": "nominal", "scale": {"domain": ["g", "b", "o"], "range": ["#dff3e7", "#eceefa", "#fef2d8"]}, "legend": null}}},
     {"data": {"name": "thr"}, "mark": {"type": "rule", "color": "#ff2a2a", "strokeDash": [4, 3], "strokeWidth": 1.2}, "encoding": {"y": {"field": "t", "type": "quantitative", "title": "μ"}}},
     {"data": {"values": [{"s": 13.2}, {"s": 33.3}, {"s": 69.9}, {"s": 90.0}]}, "mark": {"type": "rule", "color": "#111", "strokeDash": [4, 3], "strokeWidth": 1.1}, "encoding": {"x": {"field": "s", "type": "quantitative", "title": "Sdri (m)"}}},
     {"data": {"values": [{"x": 6.6, "label": "Tangent"}, {"x": 23.25, "label": "Transition Curve"}, {"x": 51.6, "label": "Circular Curve"}, {"x": 79.95, "label": "Transition Curve"}, {"x": 95, "label": "Tangent"}]}, "mark": {"type": "text", "font": "Open Sans", "fontSize": 11, "color": "#222"}, "encoding": {"x": {"field": "x", "type": "quantitative", "title": "Sdri (m)"}, "y": {"datum": -0.035, "type": "quantitative", "title": "μ"}, "text": {"field": "label"}}},
     {"data": {"name": "e"}, "mark": {"type": "line", "strokeWidth": 1.2}, "encoding": {
       "x": {"field": "x", "type": "quantitative", "title": "Sdri (m)", "scale": {"domain": [0, 100], "nice": false, "zero": false}},
       "y": {"field": "y", "type": "quantitative", "title": "μ", "scale": {"domain": [-0.05, 0.25], "nice": false, "zero": false}, "axis": {"values": [-0.05, 0, 0.05, 0.1, 0.15, 0.2, 0.25], "format": ".2f"}},
       "color": {"field": "R", "type": "nominal", "scale": {"domain": ["R=250", "R=275", "R=300", "R=325", "R=350", "R=375", "R=400"], "range": ["#6266b4", "#a9a9a9", "#ee5a45", "#f6c5b6", "#5cc0dc", "#ea4a35", "#92d050"]}, "legend": {"title": null}}}}
    ]},
   {"width": 482, "height": 300, "title": {"text": "(f) Vde = 90 km/h", "offset": 12},
    "layer": [
     {"data": {"name": "bands"}, "mark": {"type": "rect"}, "encoding": {"x": {"datum": 0, "type": "quantitative", "title": "Sdri (m)"}, "x2": {"datum": 100}, "y": {"field": "lo", "type": "quantitative", "title": "μ"}, "y2": {"field": "hi"}, "fill": {"field": "zone", "type": "nominal", "scale": {"domain": ["g", "b", "o"], "range": ["#dff3e7", "#eceefa", "#fef2d8"]}, "legend": null}}},
     {"data": {"name": "thr"}, "mark": {"type": "rule", "color": "#ff2a2a", "strokeDash": [4, 3], "strokeWidth": 1.2}, "encoding": {"y": {"field": "t", "type": "quantitative", "title": "μ"}}},
     {"data": {"values": [{"s": 11.1}, {"s": 33.3}, {"s": 66.5}, {"s": 90.7}]}, "mark": {"type": "rule", "color": "#111", "strokeDash": [4, 3], "strokeWidth": 1.1}, "encoding": {"x": {"field": "s", "type": "quantitative", "title": "Sdri (m)"}}},
     {"data": {"values": [{"x": 5.55, "label": "Tangent"}, {"x": 22.2, "label": "Transition Curve"}, {"x": 49.9, "label": "Circular Curve"}, {"x": 78.6, "label": "Transition Curve"}, {"x": 95.35, "label": "Tangent"}]}, "mark": {"type": "text", "font": "Open Sans", "fontSize": 11, "color": "#222"}, "encoding": {"x": {"field": "x", "type": "quantitative", "title": "Sdri (m)"}, "y": {"datum": -0.035, "type": "quantitative", "title": "μ"}, "text": {"field": "label"}}},
     {"data": {"name": "f"}, "mark": {"type": "line"}, "encoding": {
       "x": {"field": "x", "type": "quantitative", "title": "Sdri (m)", "scale": {"domain": [0, 100], "nice": false, "zero": false}},
       "y": {"field": "y", "type": "quantitative", "title": "μ", "scale": {"domain": [-0.05, 0.25], "nice": false, "zero": false}, "axis": {"values": [-0.05, 0, 0.05, 0.1, 0.15, 0.2, 0.25], "format": ".2f"}},
       "strokeWidth": {"condition": {"test": "datum.R === 'R=500'", "value": 2.2}, "value": 1.2},
       "color": {"field": "R", "type": "nominal", "scale": {"domain": ["R=325", "R=350", "R=375", "R=400", "R=425", "R=450", "R=475", "R=500", "R=525", "R=550"], "range": ["#6266b4", "#a9a9a9", "#ee5a45", "#f6c5b6", "#5cc0dc", "#ea4a35", "#92d050", "#3c0f5e", "#3a6c9c", "#6aa6da"]}, "legend": {"title": null}}}}
    ]}
   ]}
  ]},
{"width": 1, "height": 41, "view": {"stroke": null}, "data": {"values": [{}]}, "mark": {"type": "text", "fontSize": 0}, "encoding": {"text": {"value": ""}}},
{"spacing": 0, "resolve": {"scale": {"color": "independent", "fill": "independent"}, "legend": {"color": "independent"}},
   "hconcat": [
   {"width": 284, "height": 1, "view": {"stroke": null}, "data": {"values": [{}]}, "mark": {"type": "text", "fontSize": 0}, "encoding": {"text": {"value": ""}}},
   {"width": 532, "height": 326, "title": {"text": "(g) Vde = 100 km/h", "offset": 49},
    "layer": [
     {"data": {"name": "bands"}, "mark": {"type": "rect"}, "encoding": {"x": {"datum": 0, "type": "quantitative", "title": "Sdri (m)"}, "x2": {"datum": 100}, "y": {"field": "lo", "type": "quantitative", "title": "μ"}, "y2": {"field": "hi"}, "fill": {"field": "zone", "type": "nominal", "scale": {"domain": ["g", "b", "o"], "range": ["#dff3e7", "#eceefa", "#fef2d8"]}, "legend": null}}},
     {"data": {"name": "thr"}, "mark": {"type": "rule", "color": "#ff2a2a", "strokeDash": [4, 3], "strokeWidth": 1.2}, "encoding": {"y": {"field": "t", "type": "quantitative", "title": "μ"}}},
     {"data": {"values": [{"s": 10.8}, {"s": 34.6}, {"s": 69.5}, {"s": 91.3}]}, "mark": {"type": "rule", "color": "#111", "strokeDash": [4, 3], "strokeWidth": 1.3}, "encoding": {"x": {"field": "s", "type": "quantitative", "title": "Sdri (m)"}}},
     {"data": {"values": [{"x": 5.4, "label": "Tangent"}, {"x": 22.7, "label": "Transition Curve"}, {"x": 52.05, "label": "Circular Curve"}, {"x": 80.4, "label": "Transition Curve"}, {"x": 95.65, "label": "Tangent"}]}, "mark": {"type": "text", "font": "Open Sans", "fontSize": 11.5, "color": "#222"}, "encoding": {"x": {"field": "x", "type": "quantitative", "title": "Sdri (m)"}, "y": {"datum": -0.035, "type": "quantitative", "title": "μ"}, "text": {"field": "label"}}},
     {"data": {"name": "g"}, "mark": {"type": "line"}, "encoding": {
       "x": {"field": "x", "type": "quantitative", "title": "Sdri (m)", "scale": {"domain": [0, 100], "nice": false, "zero": false}},
       "y": {"field": "y", "type": "quantitative", "title": "μ", "scale": {"domain": [-0.05, 0.25], "nice": false, "zero": false}, "axis": {"values": [-0.05, 0, 0.05, 0.1, 0.15, 0.2, 0.25], "format": ".2f"}},
       "strokeWidth": {"condition": {"test": "datum.R === 'R=575'", "value": 2.2}, "value": 1.2},
       "color": {"field": "R", "type": "nominal", "scale": {"domain": ["R=400", "R=425", "R=450", "R=475", "R=500", "R=525", "R=550", "R=575", "R=600", "R=625", "R=650", "R=675", "R=700"], "range": ["#6266b4", "#a9a9a9", "#ee5a45", "#f6c5b6", "#5cc0dc", "#ea4a35", "#92d050", "#3c0f5e", "#3a6c9c", "#6aa6da", "#cfd2a8", "#e070cc", "#f06a50"]}, "legend": {"title": null}}}}
    ]}
   ]}
],
"config": {
 "view": {"stroke": "#333333", "strokeWidth": 1.2},
 "axis": {"grid": false, "labelFont": "Open Sans", "labelFontSize": 15, "labelColor": "#111", "titleFont": "Open Sans", "titleFontSize": 14, "titleFontWeight": "normal", "titleColor": "#111", "domain": false, "tickColor": "#333"},
 "axisX": {"labels": false, "ticks": false, "titlePadding": 3},
 "axisY": {"tickSize": 3, "labelPadding": 2, "titlePadding": 5, "titleFontStyle": "italic"},
 "legend": {"orient": "top-right", "offset": 4, "labelFont": "Open Sans", "labelFontSize": 12, "labelColor": "#222", "symbolType": "stroke", "symbolSize": 576, "symbolStrokeWidth": 1.6, "symbolOffset": 7, "rowPadding": 0, "padding": 3, "labelOffset": 8, "fillColor": "rgba(255,255,255,0.85)", "strokeColor": "#d0d0d0", "cornerRadius": 3},
 "title": {"font": "Liberation Serif", "fontSize": 30, "fontWeight": "normal", "color": "#000", "orient": "bottom", "anchor": "middle", "frame": "bounds", "baseline": "top"}
}
}
